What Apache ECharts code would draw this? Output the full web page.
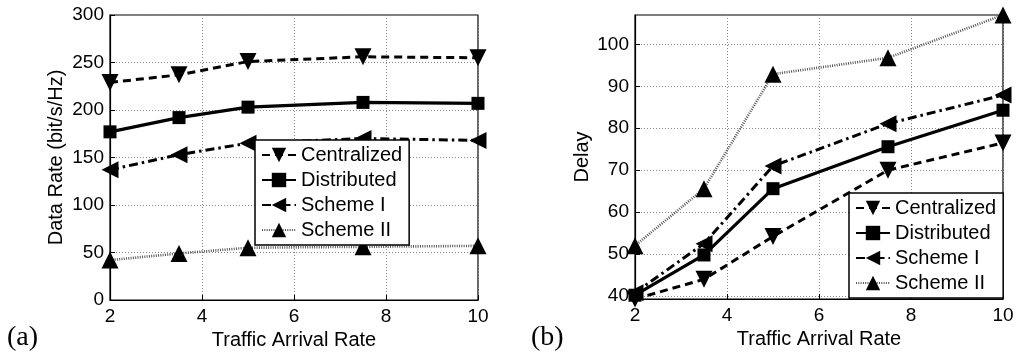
<!DOCTYPE html>
<html>
<head>
<meta charset="utf-8">
<script src="https://cdn.jsdelivr.net/npm/echarts@6/dist/echarts.min.js"></script>
<style>
  html, body { margin: 0; padding: 0; background: #fff; }
  #chart { width: 1018px; height: 363px; }
</style>
</head>
<body>
<div id="chart"></div>
<script>
// Traffic arrival rates (shared x values)
const arrivalRates = [2, 3.5, 5, 7.5, 10];
const seriesNames = ['Centralized', 'Distributed', 'Scheme I', 'Scheme II'];

// (a) data rate, bit/s/Hz
const rateCentralized = [229, 237, 251, 256, 255];
const rateDistributed = [177, 192, 203, 208, 207];
const rateSchemeI     = [137, 153, 165, 170, 168];
const rateSchemeII    = [42, 49, 55, 56, 57];

// (b) delay
const delayCentralized = [39.3, 44, 54.2, 70, 76.5];
const delayDistributed = [40.2, 49.8, 65.6, 75.6, 84.3];
const delaySchemeI     = [40.8, 52.5, 71, 81.1, 87.9];
const delaySchemeII    = [52, 65.6, 92.9, 96.8, 107];

const xTicks = [2, 4, 6, 8, 10];
const delayTicks = [40, 50, 60, 70, 80, 90, 100];

const FONT = '"Liberation Sans", Arial, Helvetica, sans-serif';

const styles = {
  'Centralized': { symbol: 'triangle', rotate: 180, size: 17, line: { type: [8, 5], width: 3 } },
  'Distributed': { symbol: 'rect', rotate: 0, size: 13, line: { type: 'solid', width: 3.2 } },
  'Scheme I':    { symbol: 'triangle', rotate: 90, size: 17, line: { type: [9, 4, 2.5, 4], width: 3 } },
  'Scheme II':   { symbol: 'triangle', rotate: 0, size: 17, line: { type: [1, 1.3], width: 2.6, color: '#555' } }
};

function makeSeries(name, values, idx) {
  const s = styles[name];
  return {
    type: 'line',
    name: name,
    xAxisIndex: idx,
    yAxisIndex: idx,
    data: arrivalRates.map((x, i) => [x, values[i]]),
    symbol: s.symbol,
    symbolRotate: s.rotate,
    symbolSize: s.size,
    showAllSymbol: true,
    clip: false,
    itemStyle: { color: '#000' },
    lineStyle: { color: s.line.color || '#000', type: s.line.type, width: s.line.width },
    emphasis: { disabled: true },
    animation: false
  };
}

function xAxisFor(idx) {
  return {
    gridIndex: idx,
    type: 'value',
    min: 2, max: 10, interval: 2,
    name: 'Traffic Arrival Rate',
    nameLocation: 'middle',
    nameGap: 28,
    nameTextStyle: { fontFamily: FONT, fontSize: 20, color: '#000' },
    axisLine: { show: true, lineStyle: { color: '#000', width: 1.2 } },
    axisTick: { show: true, inside: true, length: 5, lineStyle: { color: '#000' } },
    axisLabel: { fontFamily: FONT, fontSize: 19, color: '#000', margin: 7 },
    splitLine: { show: true, lineStyle: { color: '#888', type: [1, 2], width: 1 } }
  };
}

const splitStyle = { show: true, lineStyle: { color: '#888', type: [1, 2], width: 1 } };

const option = {
  backgroundColor: '#fff',
  animation: false,
  grid: [
    { left: 110, right: 540, top: 15, bottom: 63, show: true, borderColor: '#000', borderWidth: 1.2, backgroundColor: 'transparent' },
    { left: 635, right: 15, top: 15, bottom: 64, show: true, borderColor: '#000', borderWidth: 1.2, backgroundColor: 'transparent' }
  ],
  xAxis: [xAxisFor(0), xAxisFor(1)],
  yAxis: [
    {
      gridIndex: 0, type: 'value', min: 0, max: 300, interval: 50,
      name: 'Data Rate (bit/s/Hz)', nameLocation: 'middle', nameGap: 44,
      nameTextStyle: { fontFamily: FONT, fontSize: 20, color: '#000' },
      axisLine: { show: true, lineStyle: { color: '#000', width: 1.2 } },
      axisTick: { show: true, inside: true, length: 5, lineStyle: { color: '#000' } },
      axisLabel: { fontFamily: FONT, fontSize: 19, color: '#000', margin: 6 },
      splitLine: splitStyle
    },
    {
      gridIndex: 1, type: 'value', min: 39.3, max: 107,
      name: 'Delay', nameLocation: 'middle', nameGap: 43,
      nameTextStyle: { fontFamily: FONT, fontSize: 20, color: '#000' },
      axisLine: { show: true, lineStyle: { color: '#000', width: 1.2 } },
      axisTick: { show: true, inside: true, length: 5, customValues: delayTicks, lineStyle: { color: '#000' } },
      axisLabel: { fontFamily: FONT, fontSize: 19, color: '#000', margin: 6, customValues: delayTicks },
      splitLine: splitStyle
    }
  ],
  legend: [
    {
      left: 255, top: 140, orient: 'vertical',
      data: seriesNames,
      itemWidth: 34, itemHeight: 18, itemGap: 5,
      padding: [5, 7, 5, 6],
      backgroundColor: '#fff', borderColor: '#000', borderWidth: 1.5, borderRadius: 0,
      textStyle: { fontFamily: FONT, fontSize: 20, color: '#000', lineHeight: 20 },
      symbolRotate: 'inherit',
      selectedMode: false
    },
    {
      left: 849, top: 193, orient: 'vertical',
      data: seriesNames,
      itemWidth: 34, itemHeight: 18, itemGap: 5,
      padding: [5, 7, 5, 6],
      backgroundColor: '#fff', borderColor: '#000', borderWidth: 1.5, borderRadius: 0,
      textStyle: { fontFamily: FONT, fontSize: 20, color: '#000', lineHeight: 20 },
      symbolRotate: 'inherit',
      selectedMode: false
    }
  ],
  graphic: [
    { type: 'text', left: 7, top: 324, style: { text: '(a)', font: '28px "Liberation Serif", "Times New Roman", serif', fill: '#000' } },
    { type: 'text', left: 531, top: 324, style: { text: '(b)', font: '28px "Liberation Serif", "Times New Roman", serif', fill: '#000' } }
  ],
  series: [
    makeSeries('Centralized', rateCentralized, 0),
    makeSeries('Distributed', rateDistributed, 0),
    makeSeries('Scheme I', rateSchemeI, 0),
    makeSeries('Scheme II', rateSchemeII, 0),
    makeSeries('Centralized', delayCentralized, 1),
    makeSeries('Distributed', delayDistributed, 1),
    makeSeries('Scheme I', delaySchemeI, 1),
    makeSeries('Scheme II', delaySchemeII, 1)
  ]
};

const chart = echarts.init(document.getElementById('chart'), null, { renderer: 'canvas' });
chart.setOption(option);
</script>
</body>
</html>
